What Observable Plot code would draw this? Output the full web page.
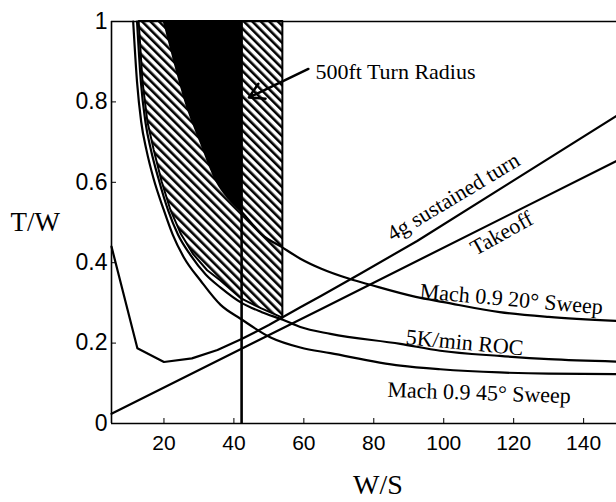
<!DOCTYPE html>
<html><head><meta charset="utf-8">
<script src="https://cdn.jsdelivr.net/npm/d3@7"></script>
<script src="https://cdn.jsdelivr.net/npm/@observablehq/plot@0.6"></script>
<style>body{margin:0;background:#fff}</style>
</head><body><div id="chart"></div>
<script>
// Tick values
const xTicks = [20, 40, 60, 80, 100, 120, 140];
const yTicks = [0, 0.2, 0.4, 0.6, 0.8, 1];

// Constraint curves (W/S, T/W)
const sweep20X = [20, 23, 26.2, 30.5, 35.2, 38.5, 42.2, 48, 53.5, 59, 65, 73, 79, 92, 100, 116, 130, 149.4];
const sweep20Y = [1.0, 0.9, 0.8, 0.7, 0.6, 0.56, 0.527, 0.47, 0.44, 0.41, 0.385, 0.36, 0.345, 0.315, 0.302, 0.277, 0.265, 0.255];

const rocX = [12.3, 13.4, 14.7, 16.3, 18.4, 21.2, 24, 27.5, 32, 36.2, 42.2, 48, 54, 59, 67.6, 87.6, 99, 116, 130, 149.4];
const rocY = [1.0, 0.85, 0.75, 0.68, 0.61, 0.53, 0.47, 0.42, 0.37, 0.338, 0.3, 0.277, 0.258, 0.24, 0.223, 0.198, 0.181, 0.168, 0.16, 0.154];

const sweep45X = [11.2, 12.3, 13.5, 15, 17, 20, 22.5, 25.7, 30.5, 36.2, 42, 50.5, 59, 67.6, 87.6, 99, 116, 130, 149.4];
const sweep45Y = [1.0, 0.85, 0.75, 0.68, 0.61, 0.53, 0.47, 0.413, 0.355, 0.295, 0.26, 0.214, 0.189, 0.175, 0.144, 0.135, 0.127, 0.124, 0.123];

const turnX = [5, 12.4, 20, 28, 35.3, 42.2, 50, 59, 65, 76, 92.4, 149.4];
const turnY = [0.44, 0.187, 0.153, 0.162, 0.183, 0.21, 0.245, 0.289, 0.318, 0.372, 0.454, 0.765];

const takeoffX = [5, 65, 149.4];
const takeoffY = [0.024, 0.285, 0.653];

// Feasible (hatched) region lower boundary
const hatchX = [12.9, 14, 15.4, 17.2, 19.5, 22, 25, 28.5, 32.5, 36.2, 42.2, 48, 54];
const hatchY = [1.0, 0.85, 0.75, 0.68, 0.6, 0.53, 0.47, 0.42, 0.38, 0.355, 0.31, 0.285, 0.262];

// Vertical W/S limits
const landingWS = 42.2;
const turnRadiusWS = 54;

const pts = (xs, ys) => xs.map((x, i) => ({x, y: ys[i]}));
const sweep20 = pts(sweep20X, sweep20Y);
const roc = pts(rocX, rocY);
const sweep45 = pts(sweep45X, sweep45Y);
const turn = pts(turnX, turnY);
const takeoff = pts(takeoffX, takeoffY);
const hatch = pts(hatchX, hatchY).filter(d => d.x <= turnRadiusWS);
const blackRegion = sweep20.filter(d => d.x <= landingWS);

const serif = "'Liberation Serif', 'Times New Roman', serif";

const curveLabels = [
  {text: "4g sustained turn", x: 84.3, y: 0.467, rotate: -31},
  {text: "Takeoff", x: 108.1, y: 0.432, rotate: -29},
  {text: "Mach 0.9 20° Sweep", x: 93.2, y: 0.329, rotate: 5},
  {text: "5K/min ROC", x: 89.2, y: 0.215, rotate: 5.5},
  {text: "Mach 0.9 45° Sweep", x: 83.9, y: 0.084, rotate: 2}
];

const chart = Plot.plot({
  width: 616,
  height: 502,
  marginLeft: 111,
  marginRight: 0,
  marginTop: 21,
  marginBottom: 79,
  x: {domain: [5, 149.4], label: null},
  y: {domain: [0, 1], label: null},
  style: {fontFamily: "'Liberation Sans', Arial, sans-serif", background: "white", color: "black", overflow: "hidden"},
  marks: [
    Plot.areaY(hatch, {x: "x", y1: "y", y2: 1, fill: "url(#hatch)", stroke: "black", strokeWidth: 2}),
    Plot.areaY(blackRegion, {x: "x", y1: "y", y2: 1, fill: "black", curve: "monotone-x"}),
    Plot.line(sweep45, {x: "x", y: "y", stroke: "black", strokeWidth: 2.2, curve: "monotone-x"}),
    Plot.line(roc, {x: "x", y: "y", stroke: "black", strokeWidth: 2.2, curve: "monotone-x"}),
    Plot.line(sweep20, {x: "x", y: "y", stroke: "black", strokeWidth: 2.2, curve: "monotone-x"}),
    Plot.line(turn, {x: "x", y: "y", stroke: "black", strokeWidth: 2.2}),
    Plot.line(takeoff, {x: "x", y: "y", stroke: "black", strokeWidth: 2.2}),
    Plot.ruleX([landingWS], {y1: 0, y2: 1, stroke: "black", strokeWidth: 2.6}),
    Plot.ruleX([5], {y1: 0, y2: 1, stroke: "black", strokeWidth: 1.6}),
    Plot.ruleY([0, 1], {stroke: "black", strokeWidth: 1.6}),
    Plot.axisX(xTicks, {tickSize: -5, tickPadding: 17, fontSize: 21, label: null, tickFormat: d => String(d)}),
    Plot.axisY(yTicks, {tickSize: -5, tickPadding: 9, fontSize: 23, label: null, tickFormat: d => String(d)}),
    Plot.arrow([{x1: 61.3, y1: 0.882, x2: 44.3, y2: 0.811}], {x1: "x1", y1: "y1", x2: "x2", y2: "y2", stroke: "black", strokeWidth: 2.5, headLength: 10}),
    Plot.text(["500ft Turn Radius"], {x: 63.3, y: 0.874, textAnchor: "start", lineAnchor: "middle", fontFamily: serif, fontSize: 22}),
    Plot.text(curveLabels, {x: "x", y: "y", text: "text", rotate: "rotate", textAnchor: "start", lineAnchor: "middle", fontFamily: serif, fontSize: 22}),
    Plot.text(["T/W"], {frameAnchor: "left", dx: -101, textAnchor: "start", lineAnchor: "middle", fontFamily: serif, fontSize: 27}),
    Plot.text(["W/S"], {frameAnchor: "bottom", dx: 14, dy: 62, lineAnchor: "middle", fontFamily: serif, fontSize: 28})
  ]
});

const defs = d3.select(chart).insert("defs", ":first-child");
const pat = defs.append("pattern")
  .attr("id", "hatch")
  .attr("patternUnits", "userSpaceOnUse")
  .attr("width", 6)
  .attr("height", 10)
  .attr("patternTransform", "rotate(-45)");
pat.append("rect").attr("width", 6).attr("height", 10).attr("fill", "white");
pat.append("line").attr("x1", 1.3).attr("y1", 0).attr("x2", 1.3).attr("y2", 10).attr("stroke", "black").attr("stroke-width", 2.6);

document.getElementById("chart").appendChild(chart);
</script>
</body></html>
